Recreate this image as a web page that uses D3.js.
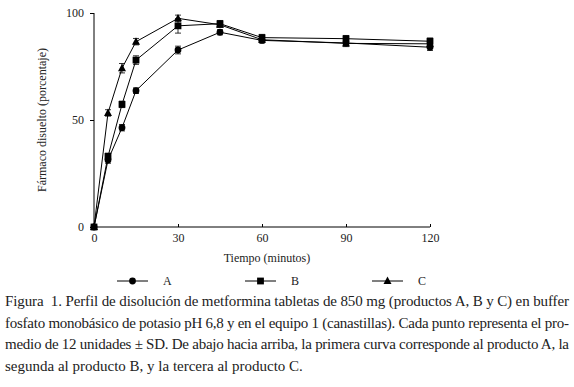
<!DOCTYPE html>
<html>
<head>
<meta charset="utf-8">
<script src="https://cdn.jsdelivr.net/npm/d3@7"></script>
<style>
  body { margin: 0; background: #fff; }
  svg { display: block; }
  text { font-family: "Liberation Serif", "DejaVu Serif", serif; fill: #222; }
  .caption { white-space: pre; }
</style>
</head>
<body>
<svg id="chart"></svg>
<script>
// data
const times = [0, 5, 10, 15, 30, 45, 60, 90, 120];
const productA = [0, 31.3, 46.4, 63.7, 82.7, 91.0, 87.2, 86.0, 84.0];
const productB = [0, 33.0, 57.3, 78.0, 94.0, 95.0, 88.5, 88.0, 86.8];
const productC = [0, 53.3, 74.2, 86.6, 97.5, 94.5, 87.5, 85.8, 85.6];
const sdA = [0, 1.5, 1.5, 1.3, 1.8, 1.2, 1.0, 1.2, 1.5];
const sdB = [0, 1.5, 1.5, 2.0, 3.4, 1.5, 1.5, 1.5, 1.5];
const sdC = [0, 1.5, 2.2, 1.5, 1.5, 1.2, 1.5, 1.5, 1.5];
const xTicks = [0, 30, 60, 90, 120];
const yTicks = [0, 50, 100];
const seriesNames = ["A", "B", "C"];
const captionLines = [
  "Figura  1. Perfil de disolución de metformina tabletas de 850 mg (productos A, B y C) en buffer",
  "fosfato monobásico de potasio pH 6,8 y en el equipo 1 (canastillas). Cada punto representa el pro-",
  "medio de 12 unidades ± SD. De abajo hacia arriba, la primera curva corresponde al producto A, la",
  "segunda al producto B, y la tercera al producto C."
];

const width = 574, height = 387;
const svg = d3.select("#chart").attr("width", width).attr("height", height);

const x = d3.scaleLinear([0, 120], [94, 430]);
const y = d3.scaleLinear([0, 100], [227, 13]);

const series = [
  { name: "A", vals: productA, sd: sdA, shape: "circle" },
  { name: "B", vals: productB, sd: sdB, shape: "square" },
  { name: "C", vals: productC, sd: sdC, shape: "triangle" }
];

function marker(g, shape, cx, cy) {
  if (shape === "circle") {
    g.append("circle").attr("cx", cx).attr("cy", cy).attr("r", 3.4).attr("fill", "#000");
  } else if (shape === "square") {
    g.append("rect").attr("x", cx - 3.4).attr("y", cy - 3.4).attr("width", 6.8).attr("height", 6.8).attr("fill", "#000");
  } else {
    g.append("path").attr("d", `M${cx},${cy - 4.4}L${cx + 4},${cy + 3}L${cx - 4},${cy + 3}Z`).attr("fill", "#000");
  }
}

// axes
const xAxis = d3.axisBottom(x).tickValues(xTicks).tickSize(-3).tickPadding(6);
svg.append("g").attr("transform", `translate(0,${y(0)})`).call(xAxis)
  .call(g => g.select(".domain").attr("d", `M${x(0)},0H${x(120)}`).attr("stroke", "#000"))
  .call(g => g.selectAll("text").attr("font-size", 12).attr("fill", "#222"));

const yAxis = d3.axisLeft(y).tickValues(yTicks).tickSize(4).tickPadding(6);
svg.append("g").attr("transform", `translate(${x(0)},0)`).call(yAxis)
  .call(g => g.select(".domain").attr("d", `M0,${y(0)}V${y(100)}`).attr("stroke", "#000"))
  .call(g => g.selectAll("text").attr("font-size", 12).attr("fill", "#222"));

svg.append("text").attr("x", 267).attr("y", 262).attr("text-anchor", "middle")
  .attr("font-size", 12).text("Tiempo (minutos)");
svg.append("text").attr("transform", "translate(46,120) rotate(-90)").attr("text-anchor", "middle")
  .attr("font-size", 12).text("Fármaco disuelto (porcentaje)");

// lines, error bars, markers
const line = d3.line().x((d, i) => x(times[i])).y(d => y(d));
series.forEach(s => {
  const g = svg.append("g");
  g.append("path").attr("d", line(s.vals)).attr("fill", "none").attr("stroke", "#000").attr("stroke-width", 1);
  s.vals.forEach((v, i) => {
    if (s.sd[i] > 0) {
      const cx = x(times[i]), y1 = y(v - s.sd[i]), y2 = y(v + s.sd[i]);
      g.append("path").attr("d", `M${cx},${y1}V${y2}M${cx - 3},${y1}H${cx + 3}M${cx - 3},${y2}H${cx + 3}`)
        .attr("stroke", "#000").attr("stroke-width", 0.8).attr("fill", "none");
    }
    marker(g, s.shape, x(times[i]), y(v));
  });
});

// legend
const legendX = [117, 245, 372];
series.forEach((s, i) => {
  const g = svg.append("g");
  const lx = legendX[i], ly = 281;
  g.append("line").attr("x1", lx).attr("x2", lx + 31).attr("y1", ly).attr("y2", ly).attr("stroke", "#000");
  marker(g, s.shape, lx + 15.5, ly);
  g.append("text").attr("x", lx + 46).attr("y", ly + 4).attr("font-size", 12).text(seriesNames[i]);
});

// caption
captionLines.forEach((t, i) => {
  const tx = svg.append("text").attr("class", "caption").attr("x", 5).attr("y", 306 + i * 21.5)
    .attr("font-size", 15).text(t);
  if (i < 3) tx.attr("textLength", 564).attr("lengthAdjust", "spacing");
});
</script>
</body>
</html>
